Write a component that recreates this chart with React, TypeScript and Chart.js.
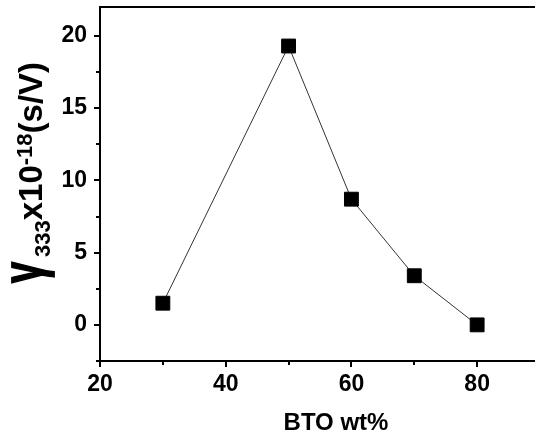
import React, { useEffect, useRef } from 'react';
import { Chart, registerables } from 'chart.js';

Chart.register(...registerables);

// ---- data ----
const btoWt = [30, 50, 60, 70, 80];
const gamma333 = [1.5, 19.3, 8.7, 3.4, 0];
const xTicks = [20, 40, 60, 80];
const xMinorTicks = [30, 50, 70, 90];
const yTicks = [0, 5, 10, 15, 20];
const yMinorTicks = [-2.5, 2.5, 7.5, 12.5, 17.5];
const xTitle = 'BTO wt%';
const yTitleParts = [
  { text: 'γ', kind: 'greek' },
  { text: '333', kind: 'sub' },
  { text: 'x10', kind: 'main' },
  { text: '-18', kind: 'sup' },
  { text: '(s/V)', kind: 'main' },
];

const FONT = "'Liberation Sans', Arial, Helvetica, sans-serif";

const framePlugin = {
  id: 'framePlugin',
  afterDraw(chart: any) {
    const { ctx, chartArea } = chart;
    const { left, right, top, bottom } = chartArea;
    const xs = chart.scales.x;
    const ys = chart.scales.y;
    ctx.save();
    ctx.strokeStyle = '#000';
    ctx.lineWidth = 2;
    ctx.beginPath();
    ctx.moveTo(left - 1, top);
    ctx.lineTo(right + 1, top);
    ctx.moveTo(right, top);
    ctx.lineTo(right, bottom);
    ctx.stroke();
    // minor ticks
    ctx.beginPath();
    for (const v of xMinorTicks) {
      const px = Math.round(xs.getPixelForValue(v));
      ctx.moveTo(px, bottom);
      ctx.lineTo(px, bottom + 4);
    }
    for (const v of yMinorTicks) {
      const py = Math.round(ys.getPixelForValue(v));
      ctx.moveTo(left, py);
      ctx.lineTo(left - 4, py);
    }
    ctx.stroke();

    // x title
    ctx.fillStyle = '#000';
    ctx.font = `bold 24px ${FONT}`;
    ctx.textAlign = 'center';
    ctx.textBaseline = 'alphabetic';
    ctx.fillText(xTitle, 336, 430);

    // y title (rotated, rich text)
    ctx.translate(42, 283);
    ctx.rotate(-Math.PI / 2);
    ctx.textAlign = 'left';
    let pos = 0;
    for (const part of yTitleParts) {
      if (part.kind === 'greek') {
        ctx.save();
        ctx.font = `bold 38px ${FONT}`;
        ctx.scale(1, 1.5);
        ctx.lineWidth = 1.2;
        ctx.strokeStyle = '#000';
        ctx.fillText(part.text, pos, 0);
        ctx.strokeText(part.text, pos, 0);
        ctx.restore();
        pos += 26;
      } else if (part.kind === 'sub') {
        ctx.font = `bold 22px ${FONT}`;
        ctx.fillText(part.text, pos, 8);
        pos += ctx.measureText(part.text).width;
      } else if (part.kind === 'sup') {
        ctx.font = `bold 22px ${FONT}`;
        ctx.fillText(part.text, pos, -10);
        pos += ctx.measureText(part.text).width;
      } else {
        ctx.font = `bold 33px ${FONT}`;
        ctx.fillText(part.text, pos, 0);
        pos += ctx.measureText(part.text).width;
      }
    }
    ctx.restore();
  },
};

export default function App() {
  const ref = useRef<HTMLCanvasElement | null>(null);
  useEffect(() => {
    if (!ref.current) return;
    const chart = new Chart(ref.current, {
      type: 'scatter',
      data: {
        datasets: [
          {
            data: btoWt.map((x, i) => ({ x, y: gamma333[i] })),
            showLine: true,
            borderColor: '#333',
            borderWidth: 1,
            pointStyle: 'rect',
            pointRadius: 9.8,
            pointBackgroundColor: '#000',
            pointBorderColor: '#000',
            pointBorderWidth: 1,
          },
        ],
      },
      options: {
        responsive: false,
        animation: false,
        devicePixelRatio: 1,
        layout: { autoPadding: false, padding: { top: 7, right: 5, left: 0, bottom: 0 } },
        plugins: { legend: { display: false }, tooltip: { enabled: false } },
        scales: {
          x: {
            type: 'linear',
            min: 20,
            max: 90,
            afterBuildTicks: (s: any) => {
              s.ticks = xTicks.map((v) => ({ value: v }));
            },
            afterFit: (s: any) => {
              s.height = 75;
              s.paddingLeft = 0;
              s.paddingRight = 0;
            },
            grid: { drawOnChartArea: false, drawTicks: true, tickLength: 6, color: '#000', lineWidth: 2 },
            border: { display: true, color: '#000', width: 2 },
            ticks: {
              color: '#000',
              padding: 4,
              maxRotation: 0,
              font: { family: FONT, weight: 'bold', size: 23 },
            },
          },
          y: {
            type: 'linear',
            min: -2.5,
            max: 22,
            afterBuildTicks: (s: any) => {
              s.ticks = yTicks.map((v) => ({ value: v }));
            },
            afterFit: (s: any) => {
              s.width = 100;
              s.paddingTop = 0;
              s.paddingBottom = 0;
            },
            grid: { drawOnChartArea: false, drawTicks: true, tickLength: 6, color: '#000', lineWidth: 2 },
            border: { display: true, color: '#000', width: 2 },
            ticks: {
              color: '#000',
              padding: 7,
              font: { family: FONT, weight: 'bold', size: 23 },
            },
          },
        },
      },
      plugins: [framePlugin],
    });
    return () => chart.destroy();
  }, []);
  return (
    <div style={{ position: 'fixed', left: 0, top: 0, width: 545, height: 436, background: '#fff' }}>
      <canvas ref={ref} width={545} height={436} style={{ display: 'block' }} />
    </div>
  );
}
